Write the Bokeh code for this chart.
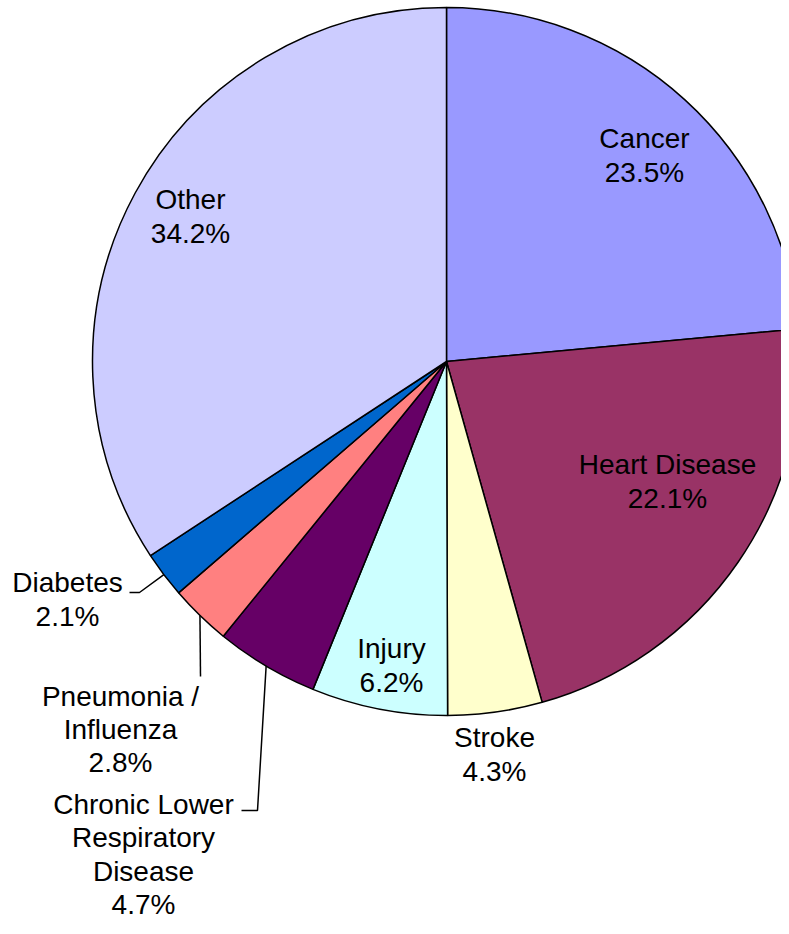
import numpy as np
from bokeh.plotting import figure
from bokeh.models import Range1d, ColumnDataSource
from bokeh.core.properties import value
from bokeh.embed import file_html
from bokeh.resources import INLINE

# ---- data ----
categories = ["Cancer", "Heart Disease", "Stroke", "Injury",
              "Chronic Lower Respiratory Disease", "Pneumonia / Influenza",
              "Diabetes", "Other"]
percents = [23.5, 22.1, 4.3, 6.2, 4.7, 2.8, 2.1, 34.2]
label_texts = ["Cancer", "Heart Disease", "Stroke", "Injury",
               "Chronic Lower\nRespiratory\nDisease", "Pneumonia /\nInfluenza",
               "Diabetes", "Other"]
colors = ["#9999FF", "#993366", "#FFFFCC", "#CCFFFF",
          "#660066", "#FF8080", "#0066CC", "#CCCCFF"]

# ---- layout (picture pixel coordinates) ----
W, H = 781, 926
CX, CY, R = 446, 361, 354          # pie centre / radius in px
FONT = "Liberation Sans"
FS = "28px"

# label block centres (px)
label_pos = {
    "Cancer": (644, 155),
    "Heart Disease": (667, 481),
    "Stroke": (494, 754),
    "Injury": (391, 665),
    "Chronic Lower Respiratory Disease": (143, 854),
    "Pneumonia / Influenza": (120, 729),
    "Diabetes": (67, 599),
    "Other": (190, 216),
}
# leader line bend points (px), start point comes from slice edge
leaders = {
    "Diabetes": [(139, 592), (129, 592)],
    "Pneumonia / Influenza": [(200, 676)],
    "Chronic Lower Respiratory Disease": [(257, 810), (241, 810)],
}

def ty(y):  # picture y -> data y
    return H - y

p = figure(width=W, height=H, output_backend="svg", toolbar_location=None,
           x_range=Range1d(0, W), y_range=Range1d(0, H),
           min_border=0, match_aspect=False)
p.axis.visible = False
p.grid.visible = False
p.outline_line_color = None
p.background_fill_color = "white"
p.border_fill_color = "white"

vals = np.array(percents)
frac = vals / vals.sum()
cum = np.concatenate([[0], np.cumsum(frac)])
start = np.pi / 2 - cum[:-1] * 2 * np.pi
end = np.pi / 2 - cum[1:] * 2 * np.pi

src = ColumnDataSource(dict(start=start, end=end, color=colors,
                            x=[CX] * len(vals), y=[ty(CY)] * len(vals)))
p.wedge(x="x", y="y", radius=R, start_angle="start", end_angle="end",
        direction="clock", fill_color="color", line_color="black",
        line_width=1.5, source=src)

# leader lines
mid = (cum[:-1] + cum[1:]) / 2 * 2 * np.pi
for i, c in enumerate(categories):
    if c in leaders:
        sx = CX + R * np.sin(mid[i])
        sy = CY - R * np.cos(mid[i])
        pts = [(sx, sy)] + leaders[c]
        p.line([q[0] for q in pts], [ty(q[1]) for q in pts],
               line_color="black", line_width=1.5)

# labels
lx, ly, lt = [], [], []
for i, c in enumerate(categories):
    x, y = label_pos[c]
    lx.append(x)
    ly.append(ty(y))
    lt.append(f"{label_texts[i]}\n{percents[i]:.1f}%")
p.text(x=lx, y=ly, text=lt, text_align="center", text_baseline="middle",
       text_font=value(FONT), text_font_size=FS, text_color="black",
       text_line_height=1.08)

open("out.html", "w").write(file_html(p, INLINE))
